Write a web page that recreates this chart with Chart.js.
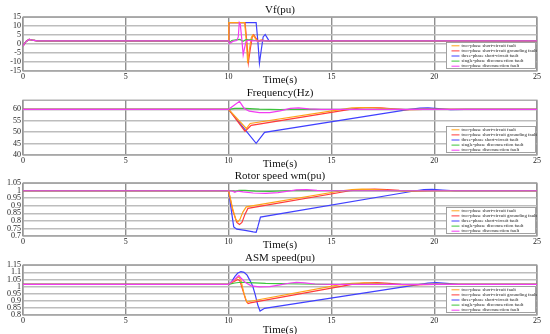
<!DOCTYPE html>
<html>
<head>
<meta charset="utf-8">
<script src="https://cdn.jsdelivr.net/npm/chart.js@4.4.1/dist/chart.umd.min.js"></script>
<style>
html, body { margin: 0; padding: 0; background: #fff; overflow: hidden; }
#wrap { position: relative; width: 550px; height: 334px; }
canvas { position: absolute; left: 0; }
</style>
</head>
<body>
<div id="wrap">
<canvas id="vf" width="550" height="87" style="top:0px"></canvas>
<canvas id="freq" width="550" height="88" style="top:83px"></canvas>
<canvas id="rotor" width="550" height="86" style="top:166px"></canvas>
<canvas id="asm" width="550" height="89" style="top:248px"></canvas>
</div>
<script>
const seriesLabels = [
    'two-phase short-circuit fault',
    'two-phase short-circuit grounding fault',
    'three-phase short-circuit fault',
    'single-phase disconnection fault',
    'two-phase disconnection fault'
];
const seriesColors = ['#ffa31a', '#ff3b3b', '#4040ff', '#3cc43c', '#f23cf2'];
// lower order = drawn on top
const seriesOrder = [2, 3, 4, 1, 0];

const timeTicks = [0, 5, 10, 15, 20, 25];

// Vf(pu)  [time, value]
const vfTicks = [-15, -10, -5, 0, 5, 10, 15];
const vfOrange = [[0,-1],[0.15,1.5],[0.3,2.6],[0.45,2.2],[0.7,1.8],[10,1.8],[10.01,12],[10.78,12],[10.86,2],[10.93,-10.7],[11.0,-4],[11.1,3.5],[11.17,5],[11.25,4],[11.4,1.5],[11.55,2.2],[11.8,1.8],[25,1.8]];
const vfRed = [[0,-1],[0.15,1.5],[0.3,2.6],[0.45,2.2],[0.7,1.8],[10,1.8],[10.01,12],[10.8,12],[10.88,2],[10.96,-10.4],[11.05,-3],[11.15,4],[11.22,5.2],[11.32,3.5],[11.45,1.4],[11.6,2.2],[11.85,1.8],[25,1.8]];
const vfBlue = [[0,-1],[0.15,1.5],[0.3,2.6],[0.45,2.2],[0.7,1.8],[10,1.8],[10.01,12],[11.34,12],[11.42,2],[11.5,-10.7],[11.58,-4],[11.68,4],[11.78,5.4],[11.88,3.5],[11.98,1.6],[12.15,2],[12.4,1.8],[25,1.8]];
const vfGreen = [[0,-1],[0.15,1.5],[0.3,2.6],[0.45,2.2],[0.7,1.8],[10,1.8],[10.04,0.8],[10.15,2],[10.35,2.4],[10.55,2.6],[10.7,1.6],[10.85,2.5],[11.05,2.4],[11.3,2.0],[11.6,1.8],[25,1.8]];
const vfMagenta = [[0,-1],[0.15,1.5],[0.3,2.6],[0.45,2.2],[0.7,1.8],[10,1.8],[10.04,0.3],[10.2,1.5],[10.4,2.0],[10.47,4],[10.52,12],[10.57,11],[10.64,3],[10.71,-6],[10.78,-2],[10.85,1.5],[10.95,2.2],[11.1,1.8],[25,1.8]];

// Frequency(Hz)
const freqTicks = [40, 45, 50, 55, 60];
const freqOrange = [[0,60],[10,60],[10.86,51.6],[11.05,53.8],[15.5,60],[16.0,60.6],[16.5,60.8],[17.0,60.7],[17.5,60.4],[18.0,60.1],[18.5,59.9],[19.5,60],[25,60]];
const freqRed = [[0,60],[10,60],[10.8,50.4],[11.1,53],[15.9,60],[16.4,60.6],[16.9,60.8],[17.4,60.6],[18.0,60.2],[18.6,59.9],[19.5,60],[25,60]];
const freqBlue = [[0,60],[10,60],[11.34,45.1],[11.75,49.9],[18.8,60],[19.3,60.5],[19.7,60.6],[20.2,60.3],[20.8,59.9],[21.5,60],[25,60]];
const freqGreen = [[0,60],[10,60],[10.3,60.4],[10.8,60.4],[11.5,60.1],[12.5,59.9],[13.5,60.1],[14.5,60],[25,60]];
const freqMagenta = [[0,60],[10,60],[10.53,63.5],[10.75,60.5],[11.0,59.2],[11.5,58.6],[12.0,58.6],[12.5,59.3],[13.0,60.4],[13.4,60.6],[13.9,60.2],[14.5,60],[25,60]];

// Rotor speed wm(pu)
const rotorTicks = [0.7, 0.75, 0.8, 0.85, 0.9, 0.95, 1, 1.05];
const rotorOrange = [[0,1],[10,1],[10.2,0.88],[10.35,0.81],[10.45,0.794],[10.55,0.81],[10.7,0.86],[10.86,0.893],[15.5,1.0],[16.0,1.008],[16.5,1.011],[17.1,1.008],[17.7,1.002],[18.5,0.998],[19.5,1.0],[25,1]];
const rotorRed = [[0,1],[10,1],[10.2,0.87],[10.4,0.79],[10.53,0.777],[10.65,0.79],[10.8,0.845],[10.94,0.883],[15.9,1.0],[16.5,1.008],[17.1,1.011],[17.7,1.008],[18.3,1.002],[19,0.998],[20,1],[25,1]];
const rotorBlue = [[0,1],[10,1],[10.1,0.9],[10.25,0.76],[10.4,0.745],[10.8,0.737],[11.2,0.727],[11.34,0.725],[11.42,0.76],[11.55,0.825],[19.1,1.0],[19.5,1.007],[19.9,1.009],[20.4,1.005],[21,1.0],[25,1]];
const rotorGreen = [[0,1],[10,1],[10.2,1.0],[10.35,0.996],[10.5,1.002],[10.8,1.003],[11.3,0.998],[12,0.996],[12.8,1.0],[13.5,1.003],[14.5,1.0],[25,1]];
const rotorMagenta = [[0,1],[10,1],[10.2,0.997],[10.3,0.99],[10.45,0.998],[10.7,0.992],[11.2,0.985],[11.8,0.983],[12.4,0.987],[12.9,0.997],[13.3,1.006],[13.8,1.007],[14.3,1.002],[15,1.0],[25,1]];

// ASM speed(pu)
const asmTicks = [0.8, 0.85, 0.9, 0.95, 1, 1.05, 1.1, 1.15];
const asmOrange = [[0,1.015],[10,1.015],[10.2,1.035],[10.4,1.06],[10.5,1.068],[10.6,1.045],[10.75,0.95],[10.89,0.889],[11.0,0.895],[15.5,1.015],[16.0,1.022],[16.6,1.026],[17.2,1.022],[17.8,1.016],[18.5,1.012],[19.5,1.015],[25,1.015]];
const asmRed = [[0,1.015],[10,1.015],[10.2,1.03],[10.45,1.05],[10.55,1.04],[10.7,0.97],[10.85,0.9],[10.95,0.88],[11.05,0.885],[16.0,1.015],[16.6,1.024],[17.2,1.027],[17.8,1.022],[18.4,1.015],[19,1.011],[20,1.015],[25,1.015]];
const asmBlue = [[0,1.015],[10,1.015],[10.15,1.035],[10.3,1.07],[10.45,1.095],[10.6,1.105],[10.75,1.1],[10.9,1.08],[11.05,1.04],[11.18,1.0],[11.3,0.94],[11.42,0.87],[11.53,0.828],[11.75,0.847],[19.3,1.015],[19.7,1.024],[20.1,1.027],[20.6,1.022],[21.2,1.015],[25,1.015]];
const asmGreen = [[0,1.015],[10,1.015],[10.3,1.025],[10.6,1.03],[11,1.027],[11.8,1.022],[12.5,1.02],[13.5,1.018],[15,1.015],[25,1.015]];
const asmMagenta = [[0,1.015],[10,1.015],[10.25,1.045],[10.5,1.078],[10.6,1.06],[10.8,1.03],[11.1,1.005],[11.5,0.998],[12.0,1.0],[12.5,1.012],[13.0,1.025],[13.3,1.029],[13.7,1.026],[14.2,1.018],[15,1.015],[25,1.015]];

const serif = '"Liberation Serif", "DejaVu Serif", serif';

// grey box round the plot area
const frame = {
    id: 'frame',
    beforeDatasetsDraw(chart) {
        const { ctx, chartArea: a } = chart;
        ctx.save();
        ctx.strokeStyle = '#9a9a9a';
        ctx.lineWidth = 1.2;
        ctx.strokeRect(a.left, a.top, a.width, a.height);
        ctx.restore();
    }
};

// small boxed legend in the lower right corner, like the matlab one
const boxLegend = {
    id: 'boxLegend',
    afterDraw(chart) {
        const { ctx, chartArea } = chart;
        const w = 90, h = 27;
        const x = chartArea.right - 1 - w;
        const y = chartArea.bottom - 2 - h;
        ctx.save();
        ctx.fillStyle = '#fff';
        ctx.fillRect(x, y, w, h);
        ctx.strokeStyle = '#8a8a8a';
        ctx.lineWidth = 0.8;
        ctx.strokeRect(x + 0.5, y + 0.5, w - 1, h - 1);
        ctx.font = '4.8px ' + serif;
        ctx.textBaseline = 'middle';
        chart.data.datasets.forEach((ds, i) => {
            const ly = y + 3.8 + i * 5.1;
            ctx.strokeStyle = ds.borderColor;
            ctx.lineWidth = 1;
            ctx.beginPath();
            ctx.moveTo(x + 5.5, ly);
            ctx.lineTo(x + 13.5, ly);
            ctx.stroke();
            ctx.fillStyle = '#222';
            ctx.fillText(ds.label, x + 15.5, ly);
        });
        ctx.restore();
    }
};

function makePanel(id, title, series, yTicks, yMin, yMax, xHeight) {
    const ctx = document.getElementById(id).getContext('2d');
    return new Chart(ctx, {
        type: 'line',
        data: {
            datasets: series.map((pts, i) => ({
                label: seriesLabels[i],
                data: pts.map(p => ({ x: p[0], y: p[1] })),
                borderColor: seriesColors[i],
                backgroundColor: seriesColors[i],
                borderWidth: 1.2,
                pointRadius: 0,
                tension: 0,
                fill: false,
                order: seriesOrder[i]
            }))
        },
        options: {
            responsive: false,
            animation: false,
            devicePixelRatio: 1,
            layout: { padding: { left: 0, right: 13, top: 0, bottom: 0 } },
            plugins: {
                legend: { display: false },
                tooltip: { enabled: false },
                title: {
                    display: true,
                    text: title,
                    fullSize: false,
                    color: '#111',
                    font: { family: serif, size: 11, weight: 'normal' },
                    padding: { top: 4, bottom: 0 }
                }
            },
            scales: {
                x: {
                    type: 'linear',
                    min: 0,
                    max: 25,
                    afterBuildTicks: s => { s.ticks = timeTicks.map(v => ({ value: v })); },
                    afterFit: s => { s.height = xHeight; },
                    grid: { color: '#8f8f8f', lineWidth: 1.4, drawTicks: false },
                    border: { display: false },
                    ticks: { autoSkip: false, maxRotation: 0, padding: 1, color: '#222', font: { family: serif, size: 8 } },
                    title: { display: true, text: 'Time(s)', color: '#111', padding: 0, font: { family: serif, size: 11 } }
                },
                y: {
                    min: yMin,
                    max: yMax,
                    afterBuildTicks: s => { s.ticks = yTicks.map(v => ({ value: v })); },
                    afterFit: s => { s.width = 23; },
                    grid: { color: '#bdbdbd', lineWidth: 1.6, drawTicks: false },
                    border: { display: false },
                    ticks: {
                        autoSkip: false,
                        padding: 2,
                        color: '#222',
                        font: { family: serif, size: 8 },
                        callback: v => String(+v.toFixed(2))
                    }
                }
            }
        },
        plugins: [frame, boxLegend]
    });
}

makePanel('vf', 'Vf(pu)', [vfOrange, vfRed, vfBlue, vfGreen, vfMagenta], vfTicks, -15, 15, 16);
makePanel('freq', 'Frequency(Hz)', [freqOrange, freqRed, freqBlue, freqGreen, freqMagenta], freqTicks, 40, 64, 16);
makePanel('rotor', 'Rotor speed wm(pu)', [rotorOrange, rotorRed, rotorBlue, rotorGreen, rotorMagenta], rotorTicks, 0.7, 1.05, 16);
makePanel('asm', 'ASM speed(pu)', [asmOrange, asmRed, asmBlue, asmGreen, asmMagenta], asmTicks, 0.8, 1.15, 22);
</script>
</body>
</html>
